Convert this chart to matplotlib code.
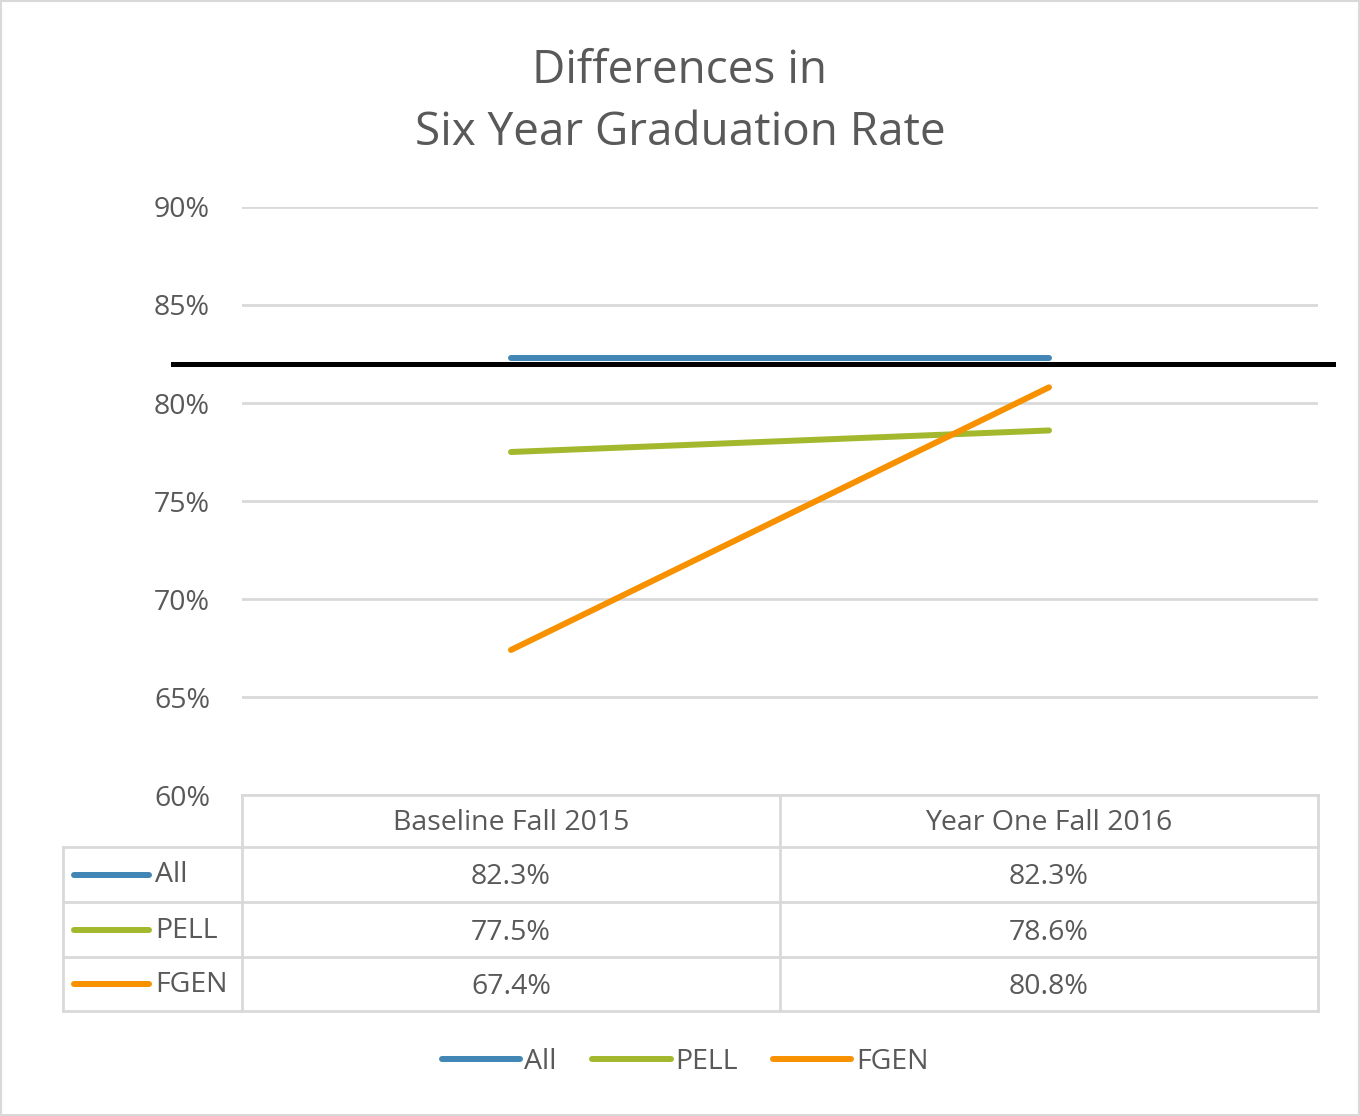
import matplotlib
matplotlib.use("Agg")
import matplotlib.pyplot as plt
from matplotlib.lines import Line2D
from matplotlib.patches import Rectangle

# ---- data ----
categories = ["Baseline Fall 2015", "Year One Fall 2016"]
series_names = ["All", "PELL", "FGEN"]
all_vals = [82.3, 82.3]
pell_vals = [77.5, 78.6]
fgen_vals = [67.4, 80.8]
yticks = [60, 65, 70, 75, 80, 85, 90]
target_line = 82.0
title = "Differences in\nSix Year Graduation Rate"

colors = {"All": "#4186B4", "PELL": "#A3B82C", "FGEN": "#F79100"}
series = {"All": all_vals, "PELL": pell_vals, "FGEN": fgen_vals}

plt.rcParams['font.family'] = ['Open Sans', 'DejaVu Sans']
TXT = "#595959"
GRID = "#d9d9d9"
FS = 20.5

W, H = 1360, 1116
fig = plt.figure(figsize=(W / 100, H / 100), dpi=100)

def fx(px):
    return px / W

def fy(py):
    return 1 - py / H

ax = fig.add_axes([fx(242), fy(795), fx(1318) - fx(242), fy(207) - fy(795)])
x = [0.5 + i for i in range(len(categories))]
for name in series_names:
    ax.plot(x, series[name], color=colors[name], lw=4.3, solid_capstyle='round', zorder=3)
ax.set_xlim(0, len(categories))
ax.set_ylim(60, 90)
ax.set_yticks(yticks)
ax.set_yticklabels([f"{v}%" for v in yticks], color=TXT, fontsize=FS)
ax.tick_params(axis='y', length=0, pad=23)
ax.set_xticks([])
ax.grid(axis='y', color=GRID, lw=2)
ax.set_axisbelow(True)
for s in ax.spines.values():
    s.set_visible(False)
ax.axhline(target_line, xmin=(173 - 242) / 1076, xmax=(1333 - 242) / 1076,
           color='black', lw=3.6, clip_on=False, zorder=4)

fig.text(0.5, fy(102), title, ha='center', va='center', fontsize=33, color=TXT,
         linespacing=1.47)

# ---- data table overlay (pixel coords) ----
ov = fig.add_axes([0, 0, 1, 1], facecolor='none')
ov.set_xlim(0, W)
ov.set_ylim(H, 0)
ov.axis('off')
fig.canvas.draw()
inv = ov.transData.inverted()

def data_to_px(xd):
    d = ax.transData.transform((xd, 60))
    return inv.transform(d)[0]

col_edges = [data_to_px(i) for i in range(len(categories) + 1)]
col_centers = [data_to_px(v) for v in x]
leg_left = 63
row_edges = [795, 847, 902, 957, 1011]

lw_t = 2
ov.plot([col_edges[0], col_edges[-1]], [row_edges[0]] * 2, color=GRID, lw=lw_t)
for r in row_edges[1:]:
    ov.plot([leg_left, col_edges[-1]], [r, r], color=GRID, lw=lw_t)
ov.plot([leg_left, leg_left], [row_edges[1], row_edges[-1]], color=GRID, lw=lw_t)
for c in col_edges:
    ov.plot([c, c], [row_edges[0], row_edges[-1]], color=GRID, lw=lw_t)

for cx, cat in zip(col_centers, categories):
    ov.text(cx, (row_edges[0] + row_edges[1]) / 2 + 2, cat, ha='center', va='center',
            fontsize=FS, color=TXT)
for i, name in enumerate(series_names):
    yc = (row_edges[i + 1] + row_edges[i + 2]) / 2
    ov.plot([74, 149], [yc, yc], color=colors[name], lw=4.3, solid_capstyle='round')
    ov.text(155, yc + 1, name, ha='left', va='center', fontsize=FS, color=TXT)
    for cx, v in zip(col_centers, series[name]):
        ov.text(cx, yc + 3, f"{v:.1f}%", ha='center', va='center', fontsize=FS, color=TXT)

# ---- bottom legend ----
handles = [Line2D([0], [0], color=colors[n], lw=4.3, solid_capstyle='round') for n in series_names]
fig.legend(handles, series_names, loc='center', bbox_to_anchor=(fx(685), fy(1062)),
           ncol=3, frameon=False, fontsize=FS, handlelength=2.75, handletextpad=0.15,
           columnspacing=1.25, labelcolor=TXT)

fig.add_artist(Rectangle((0.001, 0.001), 0.998, 0.998, transform=fig.transFigure,
                         fill=False, edgecolor=GRID, lw=1.5))

fig.savefig("out.png", dpi=100, facecolor='white')
